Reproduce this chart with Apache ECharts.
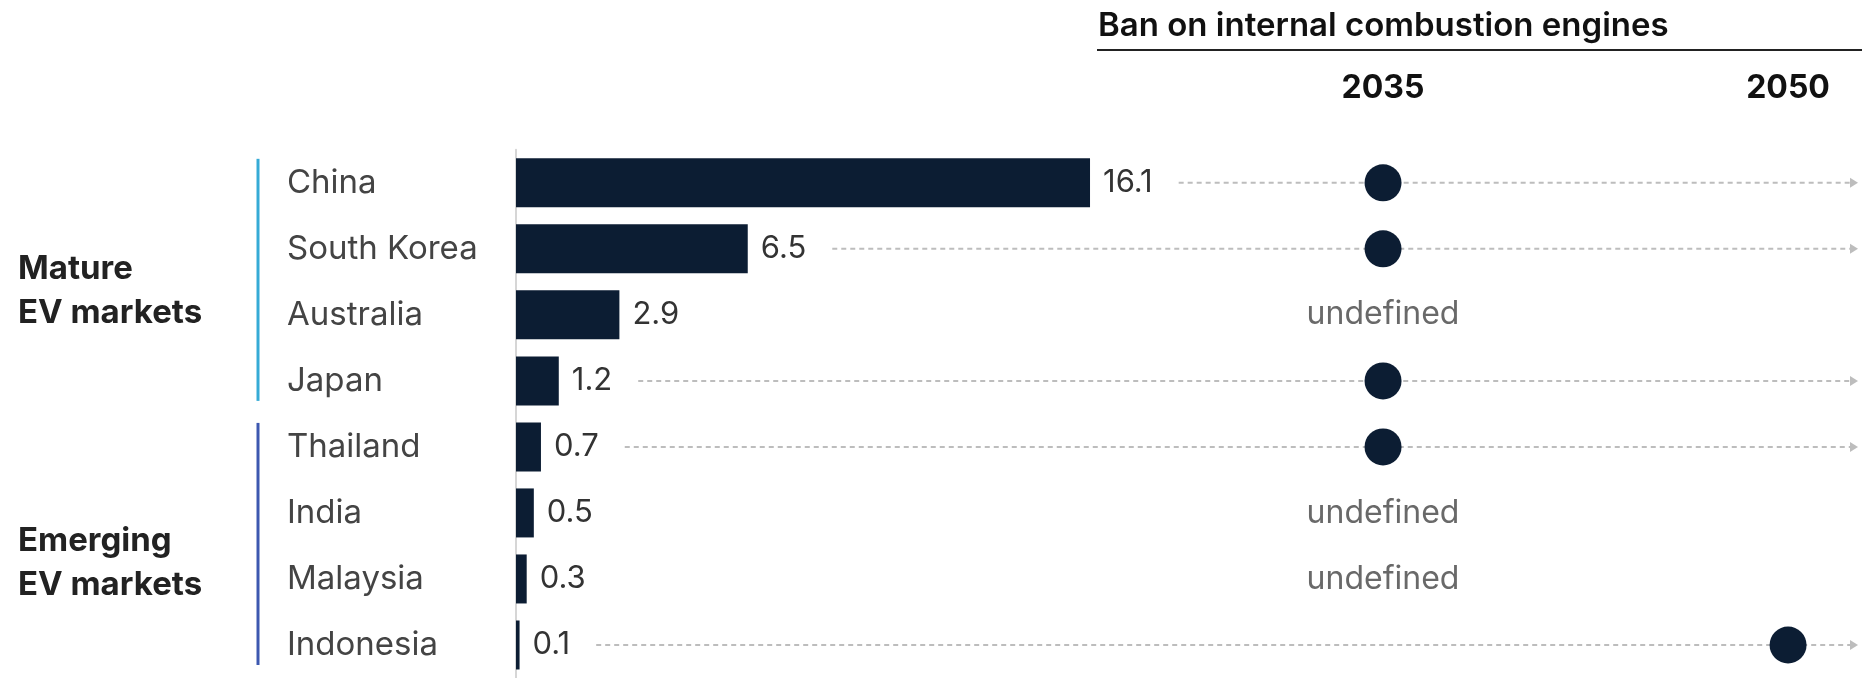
<!DOCTYPE html>
<html><head><meta charset="utf-8">
<script src="https://cdn.jsdelivr.net/npm/echarts@6/dist/echarts.min.js"></script>
<style>html,body{margin:0;padding:0;background:#fff}#c{width:1862px;height:678px}</style>
</head><body><div id="c"></div>
<script>
const countries = ['China','South Korea','Australia','Japan','Thailand','India','Malaysia','Indonesia'];
const evSales = [16.1, 6.5, 2.9, 1.2, 0.7, 0.5, 0.3, 0.1];
const banYear = [2035, 2035, null, 2035, 2035, null, null, 2050];
const yearTicks = [2035, 2050];
const undefinedText = 'undefined';
const headerTitle = 'Ban on internal combustion engines';
const groupNames = ['Mature\nEV markets', 'Emerging\nEV markets'];
const groupFirst = [0, 4];
const groupLast = [3, 7];

const FONT = 'Inter, "Noto Sans", sans-serif';
const groupColors = ['#36abd6', '#3d58b0'];
const groupLabelShift = [9, 17];
const VALUE_FONT_SIZE = 31;
const ctx = document.createElement('canvas').getContext('2d');
ctx.font = VALUE_FONT_SIZE + 'px Inter';
const fmt = v => v.toFixed(1);
const measure = s => ctx.measureText(s).width;

const chart = echarts.init(document.getElementById('c'), null, {renderer: 'canvas'});
const option = {
  animation: false,
  backgroundColor: '#fff',
  grid: {left: 516, top: 149.8, right: 4, height: 531.2},
  xAxis: [
    {type: 'value', min: 0, max: 37.64, show: false},
    {type: 'value', min: 2002.89, max: 2052.59, position: 'top',
     axisLine: {show: false}, axisTick: {show: false}, splitLine: {show: false},
     axisLabel: {customValues: yearTicks, formatter: v => String(v), margin: 45,
                 fontFamily: FONT, fontSize: 32, fontWeight: 'bold', color: '#111'}}
  ],
  yAxis: {type: 'category', inverse: true, data: countries,
    axisTick: {show: false},
    axisLine: {lineStyle: {color: '#d6d6d6', width: 2}},
    axisLabel: {align: 'left', margin: 229, fontFamily: FONT, fontSize: 33, color: '#444'}},
  series: [
    {type: 'custom', xAxisIndex: 0, yAxisIndex: 0, z: 1,
     data: countries.map((c, i) => [evSales[i], i, banYear[i] == null ? 0 : 1]),
     renderItem(params, api) {
       if (api.value(2) !== 1) return;
       const p = api.coord([api.value(0), api.value(1)]);
       const x0 = p[0] + 13 + measure(fmt(api.value(0))) + 26;
       const x1 = params.coordSys.x + params.coordSys.width;
       return {type: 'group', children: [
         {type: 'line', shape: {x1: x0, y1: p[1], x2: x1 - 8, y2: p[1]},
          style: {stroke: '#bdbdbd', lineWidth: 2, lineDash: [5, 4]}},
         {type: 'polygon', shape: {points: [[x1 - 8, p[1] - 5], [x1, p[1]], [x1 - 8, p[1] + 5]]},
          style: {fill: '#bdbdbd'}}
       ]};
     }},
    {type: 'bar', xAxisIndex: 0, yAxisIndex: 0, barWidth: 49, z: 2,
     data: evSales, itemStyle: {color: '#0c1d33'},
     label: {show: true, position: 'right', distance: 13, fontFamily: FONT, fontSize: VALUE_FONT_SIZE, color: '#333',
             formatter: p => fmt(p.value)}},
    {type: 'scatter', xAxisIndex: 1, yAxisIndex: 0, z: 3, symbolSize: 37,
     itemStyle: {color: '#0c1d33', opacity: 1},
     data: banYear.map((y, i) => y == null ? '-' : [y, i])},
    {type: 'scatter', xAxisIndex: 1, yAxisIndex: 0, z: 3, symbolSize: 1,
     itemStyle: {color: 'rgba(0,0,0,0)'},
     label: {show: true, position: 'inside', formatter: undefinedText, fontFamily: FONT, fontSize: 32, color: '#444'},
     emphasis: {disabled: true},
     data: banYear.map((y, i) => y == null ? [yearTicks[0], i] : '-')}
  ]
};
chart.setOption(option);

const gfx = [
  {type: 'text', x: 1098, y: 26,
   style: {text: headerTitle, font: '600 33px ' + FONT, fill: '#111', verticalAlign: 'middle', textVerticalAlign: 'middle'}},
  {type: 'line', shape: {x1: 1097, y1: 50, x2: 1862, y2: 50}, style: {stroke: '#222', lineWidth: 2}}
];
groupNames.forEach((name, g) => {
  const yA = chart.convertToPixel({yAxisIndex: 0}, countries[groupFirst[g]]);
  const yB = chart.convertToPixel({yAxisIndex: 0}, countries[groupLast[g]]);
  gfx.push({type: 'line', shape: {x1: 258, y1: yA - 24, x2: 258, y2: Math.min(yB + 20, 670)},
            style: {stroke: groupColors[g], lineWidth: 3}});
  gfx.push({type: 'text', x: 18, y: (yA + yB) / 2 + groupLabelShift[g],
            style: {text: name, font: 'bold 33px ' + FONT, fill: '#222', lineHeight: 44,
                    verticalAlign: 'middle', textVerticalAlign: 'middle'}});
});
chart.setOption({graphic: gfx});
</script></body></html>
